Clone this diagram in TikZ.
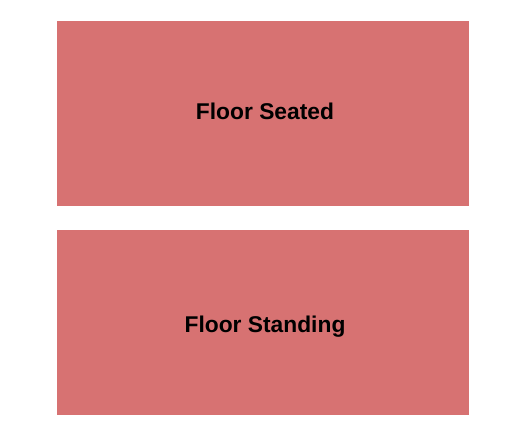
\documentclass[tikz,border=0pt]{standalone}
\usepackage{fontspec}
\setmainfont{Liberation Sans}
\definecolor{sec}{HTML}{D77272}
\begin{document}
\begin{tikzpicture}[x=1pt,y=-1pt,
  section/.style={fill=sec,draw=none},
  lbl/.style={font=\fontsize{22.8}{26}\selectfont\bfseries,text=black,inner sep=0pt}]
\useasboundingbox (0,0) rectangle (525,444);
\fill[white] (0,0) rectangle (525,444);
\path[section] (57,21) rectangle (469,205.5) coordinate (tr);
\path[section] (57,230) rectangle (469,415) coordinate (br);
\node[lbl] (seated) at (265,111.5) {Floor Seated};
\node[lbl] (standing) at (265,327) {Floor Standing};
\end{tikzpicture}
\end{document}
